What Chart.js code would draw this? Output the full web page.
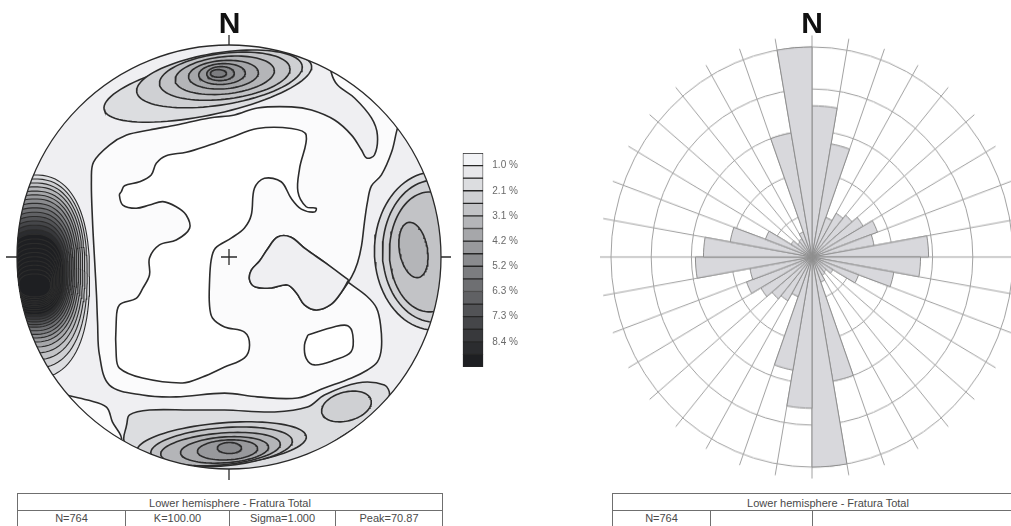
<!DOCTYPE html>
<html>
<head>
<meta charset="utf-8">
<script src="https://cdn.jsdelivr.net/npm/chart.js@4.4.0/dist/chart.umd.min.js"></script>
<style>
  html, body { margin: 0; padding: 0; background: #fff; }
  body { width: 1011px; height: 526px; overflow: hidden; position: relative;
         font-family: 'Liberation Sans', Arial, sans-serif; }
  canvas { position: absolute; }
  #net { left: 0; top: 0; }
  #scaleBar { left: 455px; top: 138px; }
  #rose { left: 600px; top: 45px; transform: scaleY(1.045); transform-origin: 50% 50%; }
  .north { position: absolute; top: 8px; width: 60px; margin-left: -30px; text-align: center;
           font: bold 30px/30px 'Liberation Sans', Arial, sans-serif; color: #111; }
  .tbl { position: absolute; top: 493px; border: 1px solid #6f6f6f; background: #fff;
         color: #4a4a4a; font-size: 11px; }
  .tbl .head { height: 16px; line-height: 19px; text-align: center; border-bottom: 1px solid #6f6f6f; }
  .tbl .cells { display: flex; height: 20px; line-height: 15px; }
  .tbl .cells span { text-align: center; border-right: 1px solid #6f6f6f; box-sizing: border-box; }
  .tbl .cells span:last-child { border-right: none; }
</style>
</head>
<body>
<canvas id="net" width="460" height="490"></canvas>
<canvas id="scaleBar" width="80" height="244"></canvas>
<canvas id="rose" width="424" height="424"></canvas>

<div class="north" style="left:229.5px">N</div>
<div class="north" style="left:812px">N</div>

<div class="tbl" style="left:17px;width:424px">
  <div class="head">Lower hemisphere - Fratura Total</div>
  <div class="cells">
    <span style="width:108px">N=764</span><span style="width:104px">K=100.00</span><span style="width:106px">Sigma=1.000</span><span style="flex:1">Peak=70.87</span>
  </div>
</div>
<div class="tbl" style="left:612px;width:430px">
  <div class="head">Lower hemisphere - Fratura Total</div>
  <div class="cells">
    <span style="width:98px">N=764</span><span style="width:102px"></span><span style="flex:1"></span>
  </div>
</div>

<script>
Chart.defaults.font.family = "'Liberation Sans', Arial, sans-serif";

// ---- contour shading (lowest density at top of the scale) ----
const shades = ['#f2f3f6','#e7e7ea','#dcdde0','#cfd0d3','#c2c3c6','#b4b5b8','#a6a7aa','#98999c',
                '#8a8b8e','#7c7d80','#6e6f72','#606164','#525356','#454649','#38393c','#2b2c2f','#1e1f22'];
const scaleLabels = ['1.0 %','2.1 %','3.1 %','4.2 %','5.2 %','6.3 %','7.3 %','8.4 %'];
// net background tones: lowest band / below the lowest contour / empty
const netLow = '#efeff2', netLowest = '#fbfbfc', netEmpty = '#ffffff';

// ---- pole density contours, equal-area net coordinates (primitive radius = 100) ----
// region enclosed by the lowest contour (runs out to the NE rim)
const sparseRim = [[80.0,62.7],[79.0,59.0],[76.7,49.5],[71.9,38.7],[67.2,33.5],[65.3,25.9],[63.9,16.5],[62.5,5.2],
  [60.6,-2.8],[57.8,-9.4],[53.1,-16.5],[48.3,-22.2],[41.3,-25.0],[35.6,-22.6],[31.8,-17.0],[27.6,-13.2],[20.0,-14.6],
  [12.5,-14.2],[9.7,-10.8],[10.6,-6.1],[14.4,-1.9],[18.2,3.8],[22.9,9.4],[29.0,9.4],[36.1,3.8],[45.5,-2.8],[55.4,-11.3],
  [64.9,-18.4],[69.6,-24.1],[71.5,-32.1],[71.9,-42.9],[70.0,-49.5],[65.3,-53.3],[57.8,-57.1],[45.0,-61.8],[32.3,-66.5],
  [13.4,-66.0],[-2.1,-64.2],[-24.8,-66.0],[-40.8,-65.1],[-56.4,-60.4],[-61.1,-46.2],[-62.0,-30.7],[-62.5,-17.9],
  [-63.4,-1.4],[-64.4,17.5],[-64.9,36.3],[-63.9,44.8],[-56.4,52.8],[-48.3,57.5],[-37.5,59.9],[-24.8,62.3],[-9.2,65.6],
  [2.6,67.0],[13.4,70.3],[29.5,70.8],[38.9,69.3],[49.8,64.6],[57.8,57.5],[62.5,50.5],[64.9,46.7],[68.6,48.1],[70.0,57.5],
  [67.2,65.6],[59.2,75.0],[51.2,81.1],[48.3,86.8],[47.4,95.3],[60,100],[85,75],[80.0,62.7]];
// empty central area
const emptyCore = [[-50.8,30.8],[-49.3,33.6],[-42.2,35.5],[-36.7,38.7],[-34.3,44.2],[-29.6,47.8],[-20.2,49.4],[-9.2,52.8],
  [0.2,56.1],[13.4,60.6],[29.5,60.6],[36.4,57.5],[33.3,41.8],[32.5,30.8],[36.4,23.7],[41.1,23.0],[40.3,21.2],[34.1,22.6],
  [29.3,27.7],[24.6,35.5],[16.7,37.1],[12.0,32.4],[10.5,19.8],[7.3,13.7],[1.2,9.0],[-6.4,4.2],[-8.4,-1.4],[-9.2,-12.3],
  [-9.2,-22.6],[-7.8,-28.8],[-2.1,-33.0],[7.3,-35.4],[9.7,-41.5],[7.3,-47.6],[-2.1,-51.9],[-12.5,-56.6],[-21.9,-59.4],
  [-40.8,-57.1],[-51.7,-52.4],[-53.2,-46.2],[-53.2,-30.5],[-51.7,-22.6],[-43.8,-19.5],[-40.7,-14.8],[-37.5,-8.5],
  [-37.5,-0.5],[-32.8,5.7],[-24.9,8.0],[-18.6,13.5],[-20.2,19.8],[-24.9,23.7],[-31.2,26.1],[-37.5,24.5],[-43.8,23.0],
  [-50.1,24.5],[-51.7,29.2],[-50.8,30.8]];
// lobe east of the centre
const eastBay = [[56.4,-10.8],[45.5,-2.8],[36.1,3.8],[29.0,9.4],[22.9,9.4],[18.2,3.8],[14.4,-1.9],[10.6,-6.1],[9.7,-10.8],
  [12.5,-14.2],[20.0,-14.6],[27.6,-13.2],[31.8,-17.0],[35.6,-22.6],[41.3,-25.0],[48.3,-22.2],[53.1,-16.5],[56.4,-10.8]];
// small empty patch SE of centre
const emptyIsland = [[37.2,-36.8],[49.8,-32.9],[56.0,-32.4],[58.4,-36.8],[57.6,-44.7],[49.8,-48.6],[40.3,-50.9],
  [36.4,-47.8],[35.6,-41.5],[37.2,-36.8]];
// low-density sliver on the SW rim
const southWestSliver = [[-76.7,-65.1],[-66.7,-67.5],[-57.8,-70.8],[-55.0,-77.8],[-50.7,-86.3],[-58,-95],[-85,-70],[-76.7,-65.1]];

// west maximum: nested contours from level 2 upward (shading saturates at the darkest class)
const westCx = -91.7;
const westCy = [-9.2,-7.8,-6.8,-6.1,-5.7,-5.4,-5.4,-5.6,-5.8,-6.0,-6.4,-6.8,-7.2,-7.7,-8.2,-8.7,-9.2,-9.8,-10.4,-11.0,-11.6,-12.2,-12.8,-13.4];
const westA  = [25.9,24.8,23.7,22.7,21.7,20.8,19.9,19.0,18.2,17.4,16.6,15.8,15.1,14.3,13.6,12.9,12.2,11.5,10.8,10.2,9.5,8.9,8.2,7.5];
const westB  = [47.9,44.6,41.7,39.2,36.8,34.7,32.8,30.9,29.0,27.1,25.5,23.8,22.2,20.5,18.9,17.2,15.6,13.9,12.5,11.1,9.7,8.3,6.8,5.4];

// north maximum, levels 2..9
const northLevels = [2,3,4,5,6,7,8,9];
const northCx   = [-10.0,-4.5,-2.0,-2.0,-2.6,-3.3,-4.0,-5.0];
const northCy   = [80.0,84.0,85.3,85.7,86.0,86.3,86.5,86.6];
const northA    = [50.0,39.5,31.0,23.5,16.5,11.0,6.5,3.8];
const northB    = [13.0,12.3,10.8,8.8,6.7,4.9,3.3,1.8];
const northTilt = [12,9,7,6,4,3,2,0];

// south maximum: outer envelope (level 2), SE satellite (level 3), nested levels 3..8
const southRim = [[-48.3,-79.2],[-46.9,-74.5],[-37.5,-72.2],[-18.6,-72.2],[-2.1,-72.2],[21.5,-73.1],[37.0,-70.8],
  [45.0,-65.1],[60.6,-59.4],[73.3,-60.4],[75.7,-65.1],[71.9,-71.2],[61.6,-79.2],[47.4,-88.7],[33.3,-100.5],
  [-0.2,-106.1],[-37.5,-96.7],[-49.3,-87.3],[-48.3,-79.2]];
const southEastPatch = {cx: 55.4, cy: -70.5, a: 12.0, b: 6.8, tilt: 15, level: 3};
const southLevels = [3,4,5,6,7,8];
const southCx   = [-3.5,-3.5,-4.0,-2.1,-0.7,0.2];
const southCy   = [-88.2,-89.6,-90.6,-91.0,-91.0,-90.1];
const southA    = [40.1,33.5,28.3,20.8,14.2,5.7];
const southB    = [9.9,9.0,7.5,6.1,4.7,2.6];
const southTilt = [5,5,5,4,3,0];

// east maximum, levels 2..5
const eastLevels = [2,3,4,5];
const eastCx   = [96.9,96.9,94.6,87.0];
const eastCy   = [2.8,2.8,2.4,3.3];
const eastA    = [28.3,24.5,18.9,6.6];
const eastB    = [37.3,33.5,28.3,13.2];
const eastTilt = [0,0,0,10];

// ---- rose diagram: strike frequency (%) in 10 degree bins, axial data ----
const roseShare = [10.8,8.2,3.0,3.6,3.9,4.4,5.2,4.7,8.7,8.1,6.2,3.7,1.8,1.4,1.5,1.9,9.0,15.0,
                   10.8,8.2,3.0,3.6,3.9,4.4,5.2,4.7,8.7,8.1,6.2,3.7,1.8,1.4,1.5,1.9,9.0,15.0];
const roseBins = roseShare.map((_, i) => (i * 10) + '-' + (i * 10 + 10));

// ---------------------------------------------------------------------------
const LINE = '#2c2c2c';
const toPts = pairs => pairs.map(([x, y]) => ({x, y}));
// closed contour ring; p > 2 gives a squarer outline
function ringPts(cx, cy, a, b, tiltDeg, p) {
  const t = (tiltDeg || 0) * Math.PI / 180, e = 2 / (p || 2), pts = [];
  for (let i = 0; i <= 90; i++) {
    const u = i / 90 * 2 * Math.PI, cu = Math.cos(u), su = Math.sin(u);
    const ex = a * Math.sign(cu) * Math.pow(Math.abs(cu), e), ey = b * Math.sign(su) * Math.pow(Math.abs(su), e);
    pts.push({x: cx + ex * Math.cos(t) - ey * Math.sin(t), y: cy + ex * Math.sin(t) + ey * Math.cos(t)});
  }
  return pts;
}
const netSets = [];
function addShape(points, fillColor, opts) {
  const o = opts || {};
  netSets.push({
    data: points, showLine: true, fill: 'shape', backgroundColor: fillColor,
    borderColor: LINE, borderWidth: o.width || 1.6, pointRadius: 0, tension: o.tension ?? 0.35,
    order: -netSets.length
  });
}
addShape(toPts(sparseRim), netLowest);
addShape(toPts(emptyCore), netEmpty);
addShape(toPts(eastBay), netLow);
addShape(toPts(emptyIsland), netEmpty);
addShape(toPts(southWestSliver), netLowest);
westA.forEach((a, i) => addShape(ringPts(westCx, westCy[i], a, westB[i], 0, 2.4), shades[Math.min(i + 2, 16)], {width: 1.1, tension: 0}));
northLevels.forEach((lv, i) => addShape(ringPts(northCx[i], northCy[i], northA[i], northB[i], northTilt[i]), shades[lv], {tension: 0}));
addShape(toPts(southRim), shades[2]);
addShape(ringPts(southEastPatch.cx, southEastPatch.cy, southEastPatch.a, southEastPatch.b, southEastPatch.tilt), shades[southEastPatch.level], {tension: 0});
southLevels.forEach((lv, i) => addShape(ringPts(southCx[i], southCy[i], southA[i], southB[i], southTilt[i]), shades[lv], {tension: 0}));
eastLevels.forEach((lv, i) => addShape(ringPts(eastCx[i], eastCy[i], eastA[i], eastB[i], eastTilt[i]), shades[lv], {tension: 0}));

// primitive circle, clipping, tick marks and centre cross
const netFrame = {
  id: 'netFrame',
  beforeDatasetsDraw(chart) {
    const {ctx, scales: {x, y}} = chart;
    const cx = x.getPixelForValue(0), cy = y.getPixelForValue(0), r = x.getPixelForValue(100) - cx;
    ctx.save();
    ctx.beginPath(); ctx.arc(cx, cy, r, 0, Math.PI * 2); ctx.clip();
    ctx.fillStyle = netLow;
    ctx.fillRect(cx - r, cy - r, 2 * r, 2 * r);
  },
  afterDatasetsDraw(chart) {
    const {ctx, scales: {x, y}} = chart;
    ctx.restore();
    const cx = x.getPixelForValue(0), cy = y.getPixelForValue(0), r = x.getPixelForValue(100) - cx;
    ctx.save();
    ctx.strokeStyle = '#2a2a2a'; ctx.lineWidth = 1.3;
    ctx.beginPath(); ctx.arc(cx, cy, r, 0, Math.PI * 2); ctx.stroke();
    ctx.beginPath();
    ctx.moveTo(cx, cy - r); ctx.lineTo(cx, cy - r - 10);
    ctx.moveTo(cx, cy + r); ctx.lineTo(cx, cy + r + 11);
    ctx.moveTo(cx - r, cy); ctx.lineTo(cx - r - 11, cy);
    ctx.moveTo(cx + r, cy); ctx.lineTo(cx + r + 10, cy);
    ctx.moveTo(cx - 8, cy); ctx.lineTo(cx + 8, cy);
    ctx.moveTo(cx, cy - 8); ctx.lineTo(cx, cy + 8);
    ctx.stroke();
    ctx.restore();
  }
};

new Chart(document.getElementById('net'), {
  type: 'scatter',
  data: {datasets: netSets},
  options: {
    responsive: false, animation: false, events: [],
    layout: {padding: {left: 17, top: 45, right: 19, bottom: 21}},
    elements: {line: {capBezierPoints: false}},
    plugins: {legend: {display: false}, tooltip: {enabled: false}},
    scales: {
      x: {type: 'linear', min: -100, max: 100, display: false},
      y: {type: 'linear', min: -100, max: 100, display: false}
    }
  },
  plugins: [netFrame]
});

// density scale bar
new Chart(document.getElementById('scaleBar'), {
  type: 'bar',
  data: {
    labels: [''],
    datasets: shades.map(c => ({data: [1], backgroundColor: c, borderColor: '#262626', borderWidth: 1,
                               borderSkipped: false, barPercentage: 1, categoryPercentage: 1}))
  },
  options: {
    responsive: false, animation: false, events: [],
    layout: {padding: {left: 7.7, top: 6.7, bottom: 10, right: 0}},
    plugins: {legend: {display: false}, tooltip: {enabled: false}},
    scales: {
      x: {display: false, stacked: true},
      y: {
        stacked: true, reverse: true, position: 'right', min: 0, max: shades.length,
        grid: {display: false, drawTicks: false}, border: {display: false},
        afterFit(s) { s.width = 51.7; },
        ticks: {
          stepSize: 1, autoSkip: false, padding: 9, color: '#6a6a6a', font: {size: 10},
          callback: v => { const k = (v - 1) / 2; return Number.isInteger(k) && k < scaleLabels.length ? scaleLabels[k] : ''; }
        }
      }
    }
  }
});

// rose diagram
new Chart(document.getElementById('rose'), {
  type: 'polarArea',
  data: {
    labels: roseBins,
    datasets: [{data: roseShare, backgroundColor: '#d8d8dc', borderColor: '#8e8e8e', borderWidth: 1}]
  },
  options: {
    responsive: false, animation: false, events: [],
    layout: {padding: 0},
    plugins: {legend: {display: false}, tooltip: {enabled: false}},
    scales: {
      r: {
        min: 0, max: 15.82, startAngle: 0,
        ticks: {display: false, stepSize: 3},
        pointLabels: {display: false},
        grid: {circular: true, lineWidth: 1,
               color: c => (c.tick && c.tick.value % 3 === 0 && c.tick.value <= 15) ? '#a2a2a2' : 'rgba(0,0,0,0)'},
        angleLines: {display: true, color: '#a2a2a2', lineWidth: 1}
      }
    }
  }
});
</script>
</body>
</html>
